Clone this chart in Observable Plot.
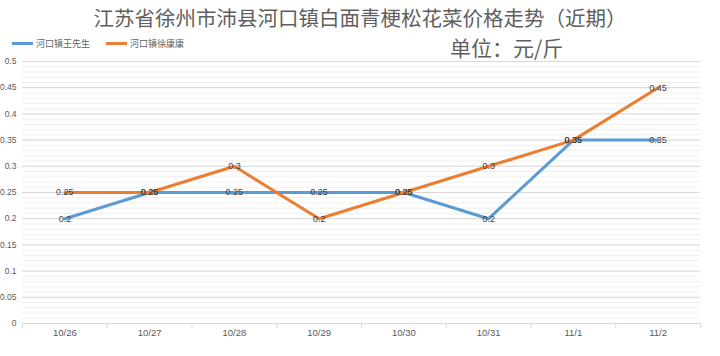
<!DOCTYPE html>
<html>
<head>
<meta charset="utf-8">
<script src="https://cdn.jsdelivr.net/npm/d3@7"></script>
<script src="https://cdn.jsdelivr.net/npm/@observablehq/plot@0.6"></script>
<style>
  body { margin: 0; background: #fff; }
  #chart { position: relative; width: 720px; height: 356px; font-family: "Noto Sans CJK SC", "Noto Sans", sans-serif; color: #5f5f5f; }
  .abs { position: absolute; white-space: nowrap; }
  #chart svg { position: absolute; left: 0; top: 56px; }
</style>
</head>
<body>
<div id="chart">
  <div class="abs" id="title" style="left:0;width:720px;top:5px;text-align:center;font-size:20.5px;line-height:24px;font-weight:normal;">江苏省徐州市沛县河口镇白面青梗松花菜价格走势（近期）</div>
  <div class="abs" id="unit" style="left:450px;top:35px;font-size:21px;line-height:24px;font-weight:normal;">单位：元/斤</div>
  <div class="abs" id="legend" style="left:12px;top:36px;font-size:9px;line-height:12px;"></div>
</div>
<script>
const dates = ["10/26", "10/27", "10/28", "10/29", "10/30", "10/31", "11/1", "11/2"];
const seriesNames = ["河口镇王先生", "河口镇徐康康"];
const wangValues = [0.2, 0.25, 0.25, 0.25, 0.25, 0.2, 0.35, 0.35];
const xuValues = [0.25, 0.25, 0.3, 0.2, 0.25, 0.3, 0.35, 0.45];
const yTicks = [0, 0.05, 0.1, 0.15, 0.2, 0.25, 0.3, 0.35, 0.4, 0.45, 0.5];
const colors = ["#5b9bd5", "#ed7d31"];

const wang = dates.map((d, i) => ({i, date: d, value: wangValues[i], series: seriesNames[0]}));
const xu = dates.map((d, i) => ({i, date: d, value: xuValues[i], series: seriesNames[1]}));

const minor = d3.range(0, 51).map(k => k / 100);
const idx = dates.map((d, i) => i);
const bounds = d3.range(-0.5, dates.length, 1);

const plot = Plot.plot({
  width: 720,
  height: 300,
  marginTop: 5,
  marginBottom: 33,
  marginLeft: 22,
  marginRight: 20,
  style: {fontFamily: "'Liberation Sans', 'Noto Sans', sans-serif", fontSize: "9px", color: "#595959", background: "transparent"},
  x: {type: "linear", domain: [-0.5, dates.length - 0.5]},
  y: {domain: [0, 0.5]},
  marks: [
    Plot.gridY(minor, {stroke: "#f0f0f0", strokeOpacity: 1}),
    Plot.gridY(yTicks, {stroke: "#d9d9d9", strokeOpacity: 1}),
    Plot.ruleY([0], {stroke: "#d9d9d9"}),
    Plot.axisY({ticks: yTicks, tickSize: 0, tickPadding: 6, fontSize: 8.5, tickFormat: d => String(+d.toFixed(2)), fill: "#595959", label: null}),
    Plot.axisX({ticks: bounds, tickSize: 5, stroke: "#d9d9d9", tickFormat: () => "", label: null}),
    Plot.axisX({ticks: idx, tickSize: 0, tickPadding: 6, fontSize: 9.5, tickFormat: i => dates[i], fill: "#595959", label: null}),
    Plot.lineY(wang, {x: "i", y: "value", stroke: colors[0], strokeWidth: 3}),
    Plot.lineY(xu, {x: "i", y: "value", stroke: colors[1], strokeWidth: 3}),
    Plot.text(wang, {x: "i", y: "value", text: d => String(d.value), fill: "#404040", fontSize: 9}),
    Plot.text(xu, {x: "i", y: "value", text: d => String(d.value), fill: "#404040", fontSize: 9})
  ]
});
document.getElementById("chart").appendChild(plot);

const legend = document.getElementById("legend");
legend.innerHTML = seriesNames.map((n, k) =>
  `<span style="display:inline-flex;align-items:center;margin-right:${k === 0 ? 16 : 0}px;">` +
  `<span style="display:inline-block;width:21px;height:3px;background:${colors[k]};margin-right:3px;"></span>${n}</span>`
).join("");
</script>
</body>
</html>
